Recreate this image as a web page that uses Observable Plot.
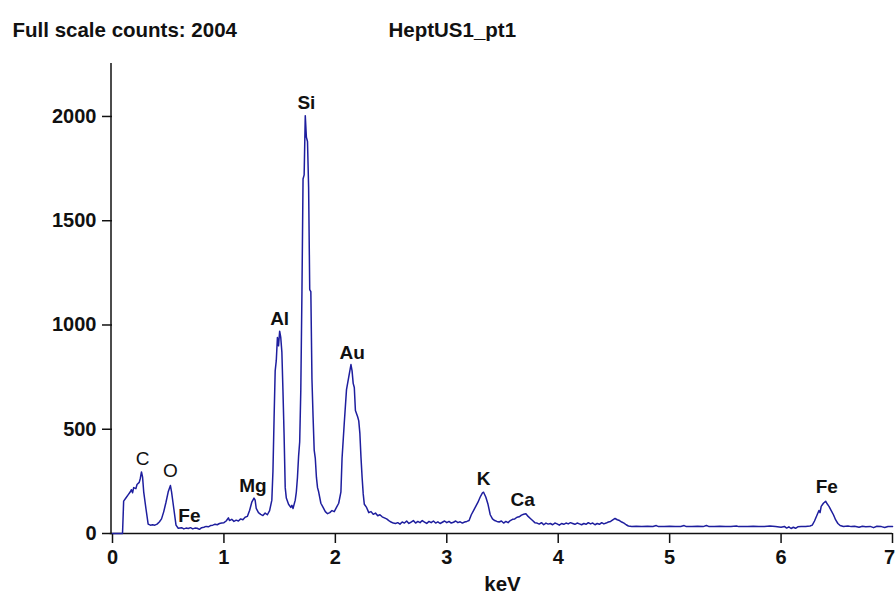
<!DOCTYPE html>
<html>
<head>
<meta charset="utf-8">
<script src="https://cdn.jsdelivr.net/npm/d3@7"></script>
<script src="https://cdn.jsdelivr.net/npm/@observablehq/plot@0.6"></script>
<style>
  html, body { margin: 0; padding: 0; background: #fff; }
  svg { display: block; }
</style>
</head>
<body>
<div id="chart"></div>
<script>
// Energy (keV) and counts
const kev = [
0.00,0.04,0.08,0.09,0.10,0.12,0.14,0.16,0.17,0.18,0.19,0.21,0.22,0.24,0.25,0.26,0.27,0.28,0.30,0.32,
0.34,0.36,0.38,0.40,0.42,0.44,0.46,0.48,0.50,0.52,0.53,0.55,0.57,0.59,0.62,0.64,0.66,0.68,0.70,0.72,
0.74,0.76,0.78,0.80,0.82,0.84,0.86,0.88,0.90,0.92,0.94,0.96,0.98,1.00,1.02,1.04,1.05,1.07,1.09,1.11,
1.13,1.15,1.17,1.19,1.21,1.23,1.25,1.27,1.28,1.29,1.31,1.33,1.35,1.37,1.39,1.41,1.43,1.44,1.45,1.46,
1.47,1.48,1.49,1.50,1.51,1.52,1.53,1.54,1.55,1.56,1.58,1.60,1.61,1.62,1.64,1.65,1.66,1.67,1.68,1.69,
1.70,1.71,1.72,1.73,1.74,1.75,1.76,1.77,1.78,1.79,1.80,1.81,1.82,1.83,1.84,1.85,1.87,1.89,1.91,1.93,
1.95,1.97,1.99,2.01,2.03,2.05,2.06,2.08,2.10,2.12,2.14,2.15,2.16,2.17,2.18,2.20,2.21,2.22,2.23,2.24,
2.25,2.26,2.28,2.30,2.32,2.34,2.36,2.38,2.40,2.42,2.44,2.46,2.48,2.50,2.52,2.54,2.56,2.58,2.60,2.62,
2.64,2.66,2.68,2.70,2.72,2.74,2.76,2.78,2.80,2.82,2.84,2.86,2.88,2.90,2.92,2.94,2.96,2.98,3.00,3.02,
3.04,3.06,3.08,3.10,3.12,3.14,3.16,3.18,3.20,3.22,3.24,3.26,3.28,3.30,3.32,3.33,3.35,3.37,3.39,3.41,
3.43,3.45,3.47,3.49,3.51,3.53,3.55,3.57,3.59,3.61,3.63,3.65,3.67,3.69,3.71,3.73,3.75,3.77,3.79,3.81,
3.83,3.85,3.87,3.89,3.91,3.93,3.95,3.97,3.99,4.01,4.03,4.05,4.07,4.09,4.11,4.13,4.15,4.17,4.19,4.21,
4.23,4.25,4.27,4.29,4.31,4.33,4.35,4.37,4.39,4.41,4.43,4.45,4.47,4.49,4.51,4.53,4.55,4.57,4.59,4.61,
4.63,4.66,4.70,4.75,4.80,4.85,4.88,4.90,4.95,5.00,5.05,5.10,5.13,5.15,5.20,5.25,5.30,5.33,5.35,5.40,
5.45,5.50,5.55,5.60,5.62,5.70,5.75,5.80,5.85,5.90,5.95,6.00,6.03,6.05,6.07,6.09,6.11,6.13,6.15,6.18,
6.22,6.26,6.28,6.30,6.32,6.34,6.35,6.36,6.38,6.40,6.41,6.43,6.45,6.47,6.49,6.51,6.53,6.56,6.60,6.63,
6.66,6.70,6.73,6.76,6.80,6.83,6.86,6.90,6.93,6.96,7.00
];
const counts = [
0,0,0,0,155,170,185,200,210,195,220,215,235,245,265,295,270,200,120,45,
40,42,40,45,55,70,105,150,200,230,200,120,40,25,28,22,26,24,28,22,
26,25,20,28,30,34,32,38,40,44,42,48,50,52,60,75,62,68,58,64,
60,70,66,78,82,110,150,170,160,120,100,92,86,98,90,110,160,300,550,780,
830,940,900,970,940,870,680,470,220,170,140,125,135,120,160,200,270,370,440,690,
1150,1700,1720,2004,1900,1880,1660,1170,1160,740,560,400,360,270,220,200,145,125,105,95,
100,110,105,125,145,200,360,530,690,750,810,780,720,700,590,560,540,480,365,270,
190,140,125,100,105,92,98,85,90,80,75,70,62,55,50,48,52,45,55,50,
60,48,55,62,50,58,52,62,55,48,58,52,60,50,56,48,54,60,52,58,
50,54,60,52,56,50,55,58,62,90,110,130,150,175,195,198,175,140,90,70,
62,58,55,60,50,58,52,62,68,70,78,80,88,92,95,82,72,62,52,50,
45,52,42,50,45,48,42,50,46,40,48,44,50,46,52,48,44,50,46,42,
48,44,52,46,50,42,48,44,52,46,50,55,58,65,72,66,62,55,50,42,
36,34,35,33,35,34,38,33,34,35,33,34,38,33,34,35,33,38,34,33,
35,34,33,36,33,34,35,33,34,36,33,30,34,26,32,24,30,25,32,33,
34,36,40,60,85,110,100,130,145,155,145,130,110,90,65,48,38,34,36,33,
35,30,35,32,34,28,35,33,29,34,33
];
const spectrum = kev.map((k, i) => ({kev: k, counts: counts[i]}));

// Element line labels (energy, counts level of label)
const elements = ["C", "O", "Fe", "Mg", "Al", "Si", "Au", "K", "Ca", "Fe"];
const elemKev = [0.27, 0.52, 0.69, 1.26, 1.50, 1.74, 2.15, 3.33, 3.68, 6.41];
const elemCounts = [360, 302, 86, 230, 1031, 2067, 868, 264, 163, 225];
const elemBold = [false, false, true, true, true, true, true, true, true, true];
const labels = elements.map((e, i) => ({name: e, kev: elemKev[i], counts: elemCounts[i], bold: elemBold[i]}));

const xTicks = [0, 1, 2, 3, 4, 5, 6, 7];
const yTicks = [0, 500, 1000, 1500, 2000];
const titleText = "Full scale counts: 2004";
const sampleText = "HeptUS1_pt1";
const xLabel = "keV";

const font = "'Liberation Sans', Arial, sans-serif";
const lastTick = xTicks[xTicks.length - 1];

const chart = Plot.plot({
  width: 895,
  height: 599,
  marginLeft: 112,
  marginRight: 3,
  marginTop: 63,
  marginBottom: 66,
  style: {fontFamily: font, fontSize: "20px", fontWeight: "bold", color: "#111", background: "#fff"},
  x: {domain: [0, 7], label: null},
  y: {domain: [0, 2254], label: null},
  marks: [
    Plot.axisX({ticks: xTicks, tickFormat: d => d === lastTick ? "" : String(d), tickSize: 10, tickPadding: 6, strokeWidth: 1.5, fontWeight: "bold", fontSize: 20, label: null}),
    Plot.text([lastTick], {x: d => d, frameAnchor: "bottom", lineAnchor: "top", dy: 16, dx: -3, text: d => String(d), fontSize: 20, fontWeight: "bold", fill: "#111"}),
    Plot.axisY({ticks: yTicks, tickFormat: "d", tickSize: 10, tickPadding: 6, strokeWidth: 1.5, fontWeight: "bold", fontSize: 20, label: null}),
    Plot.ruleX([0], {stroke: "#111", strokeWidth: 1.5, dx: -1.5}),
    Plot.ruleY([0], {stroke: "#111", strokeWidth: 1.5, x1: -0.02, x2: 7}),
    Plot.line(spectrum, {x: "kev", y: "counts", stroke: "#1e1e9e", strokeWidth: 1.5, curve: "linear"}),
    Plot.text(labels.filter(d => d.bold), {x: "kev", y: "counts", text: "name", fontSize: 19, fontWeight: "bold", fill: "#111"}),
    Plot.text(labels.filter(d => !d.bold), {x: "kev", y: "counts", text: "name", fontSize: 19, fontWeight: "normal", fill: "#111"}),
    Plot.text([titleText], {frameAnchor: "top-left", dx: -100, dy: -41, textAnchor: "start", fontSize: 20.5, fontWeight: "bold", fill: "#111"}),
    Plot.text([sampleText], {frameAnchor: "top-left", dx: 276, dy: -41, textAnchor: "start", fontSize: 20.5, fontWeight: "bold", fill: "#111"}),
    Plot.text([xLabel], {frameAnchor: "bottom", dy: 57, fontSize: 20.5, fontWeight: "bold", fill: "#111"})
  ]
});
document.getElementById("chart").appendChild(chart);
</script>
</body>
</html>
